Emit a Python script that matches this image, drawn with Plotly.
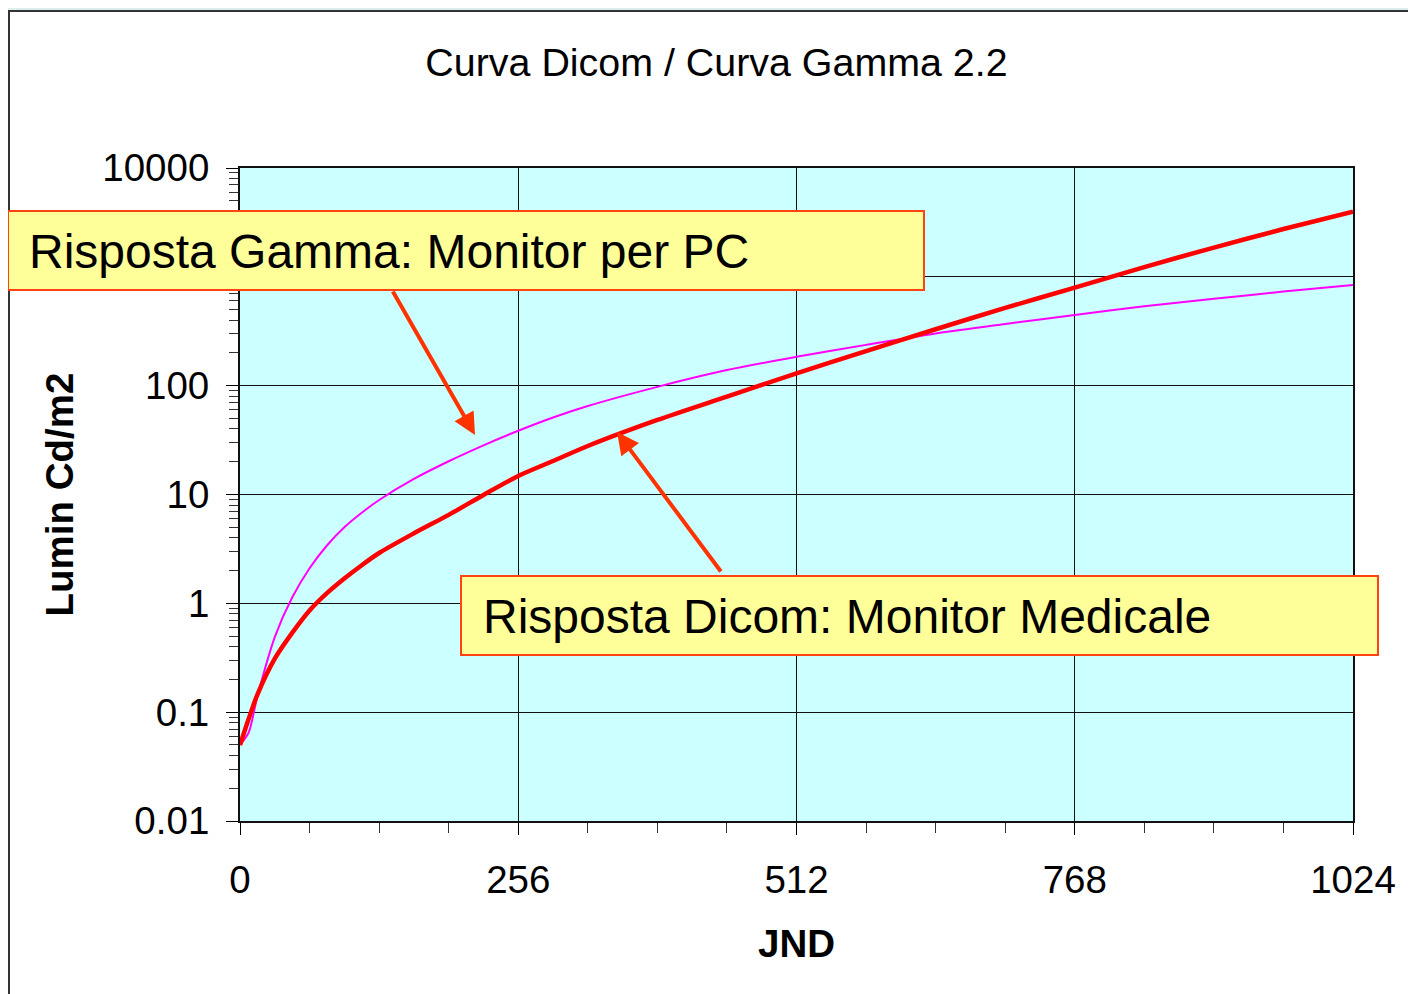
import plotly.graph_objects as go

# ---------------- data ----------------
jnd = [0, 8, 16, 32, 48, 64, 80, 96, 112, 128, 160, 192, 224, 256, 288, 320,
       384, 448, 512, 576, 640, 704, 768, 832, 896, 960, 1024]
dicom = [0.05, 0.087, 0.145, 0.31, 0.535, 0.86, 1.24, 1.69, 2.24, 2.9, 4.4, 6.5,
         9.9, 14.8, 20.3, 27.9, 48.4, 79.4, 130, 208, 330, 518, 795, 1227,
         1858, 2748, 3970]
gamma = [0.05, 0.065, 0.14, 0.49, 1.13, 2.1, 3.4, 5.0, 6.8, 8.9, 13.9, 20.2,
         28.3, 38.5, 51, 65, 97.5, 139, 184, 237, 302, 369, 446, 536, 628, 732,
         840]

x_ticks = [0, 256, 512, 768, 1024]
y_ticks = [0.01, 0.1, 1, 10, 100, 1000, 10000]
y_labels = ["0.01", "0.1", "1", "10", "100", "1000", "10000"]

title_text = "Curva Dicom / Curva Gamma 2.2"
x_title = "JND"
y_title = "Lumin Cd/m2"
box_gamma = "Risposta Gamma: Monitor per PC"
box_dicom = "Risposta Dicom: Monitor Medicale"

# ---------------- layout geometry (screen pixels; page body has 8px margin) ----
W, H = 1416, 994
OFF = 8
L, R, T, B = 240, 1353, 168, 821          # plot area as seen on screen
PW, PH = R - L, B - T


def px(x):  # screen pixel -> paper x
    return (x - L) / PW


def py(y):  # screen pixel -> paper y
    return (B - y) / PH


FONT = "Liberation Sans, Arial, Helvetica, sans-serif"
TEAL = "#DCEFEE"
BOXC = "#FF4411"
ARROWC = "#FF3300"

fig = go.Figure()
fig.add_trace(go.Scatter(x=jnd, y=gamma, mode="lines", name="Gamma 2.2",
                         line=dict(color="#FF00FF", width=2, shape="spline",
                                   smoothing=0.8)))
fig.add_trace(go.Scatter(x=jnd, y=dicom, mode="lines", name="Dicom",
                         line=dict(color="#FF0000", width=4.5, shape="spline",
                                   smoothing=0.8)))

minor_y = [m * 10 ** e for e in range(-2, 4) for m in range(2, 10)]

fig.update_layout(
    width=W, height=H,
    margin=dict(l=L - OFF, r=W - (R - OFF), t=T - OFF, b=H - (B - OFF), pad=0),
    paper_bgcolor="white",
    plot_bgcolor="#CCFFFF",
    showlegend=False,
    font=dict(family=FONT, color="black"),
    title=dict(text=title_text, font=dict(size=39.4, color="black"),
               x=(716.5 - OFF) / W, xanchor="center", xref="container",
               y=1 - (62 - OFF) / H, yanchor="middle", yref="container"),
    xaxis=dict(range=[0, 1024], tickmode="array", tickvals=x_ticks,
               ticks="outside", ticklen=12, tickwidth=1, tickcolor="black",
               tickfont=dict(size=38.5), ticklabelstandoff=12,
               showgrid=True, gridcolor="#111111", gridwidth=1,
               showline=True, linecolor="#111111", linewidth=2, mirror=True,
               zeroline=False,
               minor=dict(dtick=64, tick0=0, ticks="outside", ticklen=10,
                          tickcolor="#333333", showgrid=False),
               title=dict(text="<b>" + x_title + "</b>", font=dict(size=38.5),
                          standoff=30)),
    yaxis=dict(type="log", range=[-2, 4], tickmode="array", tickvals=y_ticks,
               ticktext=y_labels,
               ticks="outside", ticklen=12, tickwidth=1, tickcolor="black",
               tickfont=dict(size=38.5), ticklabelstandoff=9,
               showgrid=True, gridcolor="#111111", gridwidth=1,
               showline=True, linecolor="#111111", linewidth=2, mirror=True,
               zeroline=False,
               minor=dict(tickmode="array", tickvals=minor_y, ticks="outside",
                          ticklen=9, tickcolor="#333333", showgrid=False),
               title=dict(text="<b>" + y_title + "</b>", font=dict(size=38.5),
                          standoff=17)),
)

# outer slide-like frame
fig.add_shape(type="rect", xref="paper", yref="paper",
              x0=px(-20), x1=px(1440), y0=py(10), y1=py(-20),
              fillcolor=TEAL, line=dict(width=0), layer="below")
fig.add_shape(type="line", xref="paper", yref="paper",
              x0=px(9), x1=px(9), y0=py(10), y1=py(1020),
              line=dict(color="#333333", width=2))
fig.add_shape(type="line", xref="paper", yref="paper",
              x0=px(8), x1=px(1440), y0=py(11), y1=py(11),
              line=dict(color="#333333", width=2))

# arrows
fig.add_annotation(xref="paper", yref="paper", x=px(475), y=py(435),
                   ax=392 - 475, ay=290 - 435, text="", showarrow=True,
                   arrowhead=2, arrowsize=1.1, arrowwidth=4, arrowcolor=ARROWC)
fig.add_annotation(xref="paper", yref="paper", x=px(617), y=py(432),
                   ax=722 - 617, ay=573 - 432, text="", showarrow=True,
                   arrowhead=2, arrowsize=1.1, arrowwidth=4, arrowcolor=ARROWC)

# label boxes: rectangle + text
for txt, x0, y0, x1, y1, tx in [(box_gamma, 8, 211, 924, 290, 27),
                                 (box_dicom, 461, 576, 1378, 655, 481)]:
    fig.add_shape(type="rect", xref="paper", yref="paper",
                  x0=px(x0), x1=px(x1), y0=py(y1), y1=py(y0),
                  fillcolor="#FFFF99", line=dict(color=BOXC, width=2),
                  layer="above")
    fig.add_annotation(xref="paper", yref="paper", x=px(tx),
                       y=py((y0 + y1) / 2 + 1),
                       xanchor="left", yanchor="middle", showarrow=False,
                       text=txt, font=dict(size=48, color="black"))

fig.write_html("out.html")
